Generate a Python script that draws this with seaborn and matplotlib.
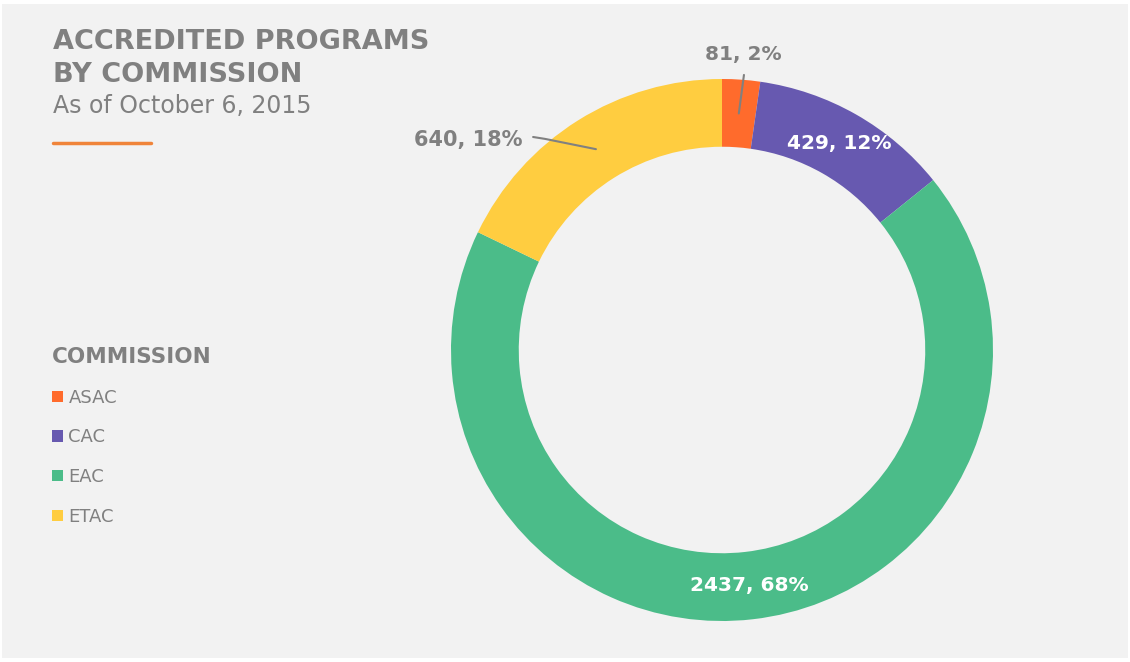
import numpy as np
import seaborn as sns
import matplotlib.pyplot as plt
from matplotlib.patches import Rectangle

# data
commissions = ['ASAC', 'CAC', 'EAC', 'ETAC']
programs = [81, 429, 2437, 640]
colors = ['#ff6b2c', '#6759b0', '#4bbc89', '#ffcd40']

sns.set_theme(style='white')
plt.rcParams['font.family'] = ['DejaVu Sans']
GREY = '#808080'

fig = plt.figure(figsize=(11.3, 6.62), dpi=100)
fig.patch.set_facecolor('white')
fig.add_artist(Rectangle((2 / 1130, 4 / 662), 1126 / 1130, 654 / 662,
                         transform=fig.transFigure, facecolor='#f2f2f2',
                         edgecolor='none', zorder=0))

ax = fig.add_axes([451 / 1130, 41 / 662, 542 / 1130, 542 / 662])
wedges, _ = ax.pie(programs, colors=sns.color_palette(colors), startangle=90,
                   counterclock=False, radius=1,
                   wedgeprops=dict(width=0.25, edgecolor='none'))
ax.set_xlim(-1, 1)
ax.set_ylim(-1, 1)
ax.set_aspect('equal')
ax.axis('off')

total = sum(programs)
shares = np.array(programs) / total
ends = np.cumsum(shares)
mids = ends - shares / 2
ang = np.deg2rad(mids * 360)  # clockwise from top
r = 0.875
px = r * np.sin(ang)
py = r * np.cos(ang)
labels = [f'{v}, {round(s * 100)}%' for v, s in zip(programs, shares)]
fs = 14.5

# inside labels
for i in (1, 2):
    ax.text(px[i], py[i], labels[i], color='white', fontsize=fs,
            fontweight='bold', ha='center', va='center')

# ASAC: leader going straight up
ax.plot([px[0], 0.081], [py[0], 1.015], color=GREY, lw=1.5, clip_on=False)
ax.text(0.077, 1.09, labels[0], color=GREY, fontsize=fs, fontweight='bold',
        ha='center', va='center', clip_on=False)

# ETAC: leader with a kink
ax.plot([px[3], -0.653, -0.697], [py[3], 0.779, 0.786], color=GREY, lw=1.5,
        clip_on=False)
ax.text(-0.738, 0.775, labels[3], color=GREY, fontsize=15, fontweight='bold',
        ha='right', va='center', clip_on=False)

# titles
fig.text(53 / 1130, 1 - 42 / 662, 'ACCREDITED PROGRAMS', color=GREY,
         fontsize=19.5, fontweight='bold', ha='left', va='center')
fig.text(53 / 1130, 1 - 75 / 662, 'BY COMMISSION', color=GREY,
         fontsize=19.5, fontweight='bold', ha='left', va='center')
fig.text(53 / 1130, 1 - 106 / 662, 'As of October 6, 2015', color=GREY,
         fontsize=17, ha='left', va='center')
fig.add_artist(plt.Line2D([53 / 1130, 151 / 1130], [1 - 143 / 662] * 2,
                          color='#f0843a', lw=2.5, transform=fig.transFigure))

leg = fig.legend(wedges, commissions, loc='upper left',
                 bbox_to_anchor=(52 / 1130, 1 - 347 / 662), frameon=False,
                 title='COMMISSION', alignment='left', fontsize=13,
                 title_fontproperties={'weight': 'bold', 'size': 15.5},
                 handlelength=0.61, handleheight=0.61, handletextpad=0.3,
                 labelspacing=1.2, borderpad=0, borderaxespad=0)
for t in leg.get_texts():
    t.set_color(GREY)
leg.get_title().set_color(GREY)

fig.savefig('out.png', dpi=100, facecolor=fig.get_facecolor())
